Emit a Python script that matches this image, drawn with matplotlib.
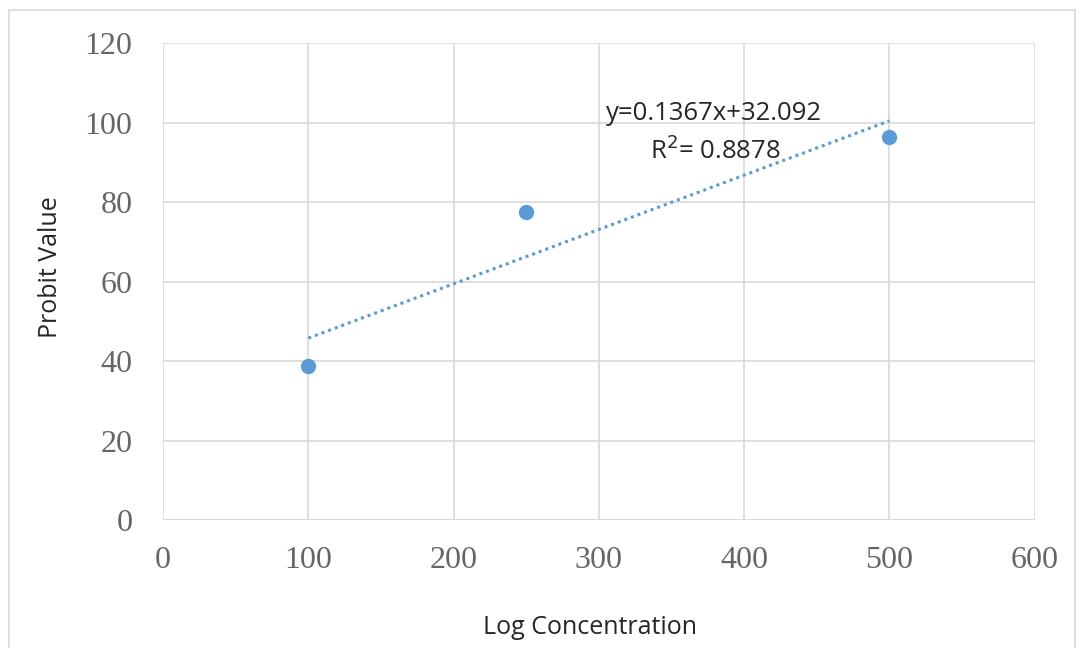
import numpy as np
import matplotlib
matplotlib.use('Agg')
import matplotlib.pyplot as plt
from matplotlib.patches import Rectangle

# Datos
concentracion = [100, 250, 500]
probit = [38.7, 77.5, 96.4]
pendiente = 0.1367
intercepto = 32.092
r2 = 0.8878

x_ticks = [0, 100, 200, 300, 400, 500, 600]
y_ticks = [0, 20, 40, 60, 80, 100, 120]

azul = '#5B9BD5'
gris_grid = '#D9D9D9'
gris_txt = '#595959'

fig = plt.figure(figsize=(10.8, 6.48), dpi=100)
fig.patches.append(Rectangle((9 / 1080, -0.01), 1 - 14 / 1080, 1 - 10 / 648 + 0.01,
                             transform=fig.transFigure, fill=False,
                             edgecolor='#D9D9D9', linewidth=1.2))
ax = fig.add_axes([0.151, 0.1975, 0.807, 0.736])

# Linea de tendencia
xt = np.array([concentracion[0], concentracion[-1]])
ax.plot(xt, pendiente * xt + intercepto, linestyle=(0, (1, 1.3)), color=azul,
        linewidth=2.2, zorder=3)
ax.plot(concentracion, probit, 'o', color=azul, markersize=10, zorder=4)

ax.set_xlim(0, 600)
ax.set_ylim(0, 120)
ax.set_xticks(x_ticks)
ax.set_yticks(y_ticks)
ax.grid(True, color=gris_grid, linewidth=1.2)
ax.set_axisbelow(True)
for lado in ['top', 'right', 'left', 'bottom']:
    ax.spines[lado].set_visible(False)
ax.axhline(0, color=gris_grid, linewidth=1.4, zorder=1)
ax.tick_params(axis='x', length=0, pad=19, colors=gris_txt)
ax.tick_params(axis='y', length=0, pad=22, colors=gris_txt)
for lab in ax.get_xticklabels() + ax.get_yticklabels():
    lab.set_fontfamily('Liberation Serif')
    lab.set_fontsize(23)
    lab.set_color('#666666')

ax.set_xlabel('Log Concentration', fontfamily='Open Sans', fontsize=18,
              color='#262626')
ax.xaxis.set_label_coords(0.49, -0.199)
ax.set_ylabel('Probit Value', fontfamily='Open Sans', fontsize=18,
              color='#262626')
ax.yaxis.set_label_coords(-0.115, 0.53)

ax.text(305, 102.4, 'y=0.1367x+32.092', fontfamily='Open Sans', fontsize=18.5,
        color='#262626', va='center', ha='left')
ax.text(335, 93.0, r'R$^2$= 0.8878', fontfamily='Open Sans', fontsize=18.5,
        color='#262626', va='center', ha='left')

fig.savefig('out.png', dpi=100)
